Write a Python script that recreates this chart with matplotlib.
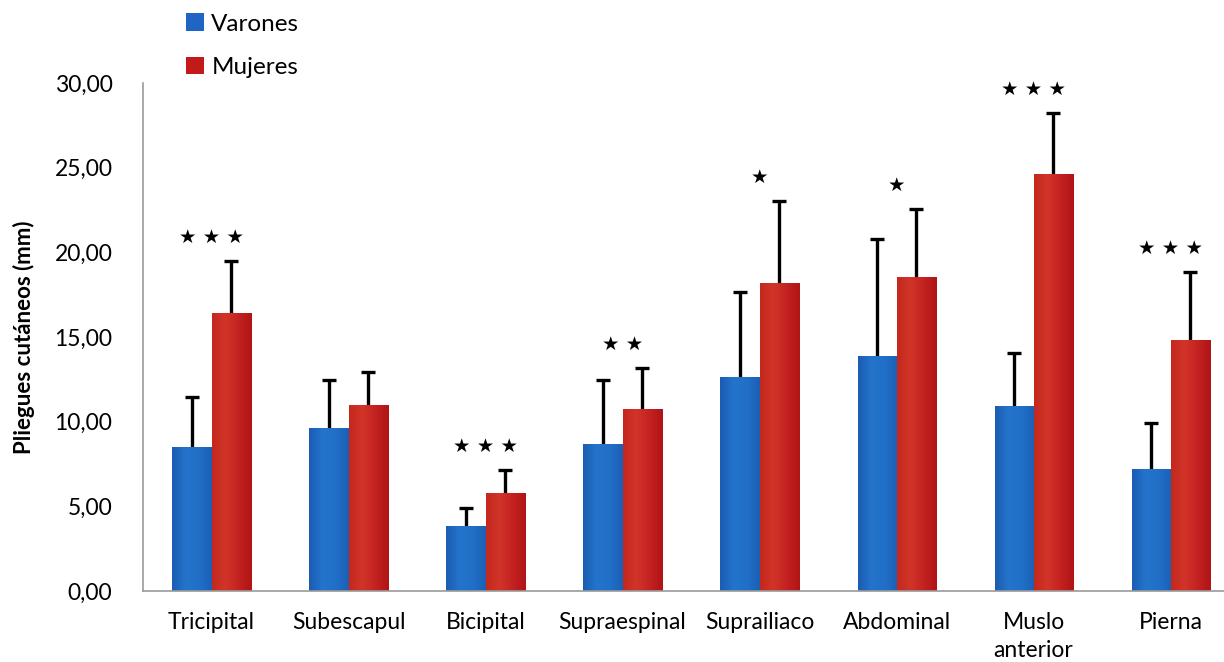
import matplotlib
matplotlib.use("Agg")
import matplotlib.pyplot as plt
import numpy as np
from matplotlib.colors import LinearSegmentedColormap

plt.rcParams['font.family'] = ['Lato', 'DejaVu Sans']

categorias = ["Tricipital", "Subescapul", "Bicipital", "Supraespinal",
              "Suprailiaco", "Abdominal", "Muslo\nanterior", "Pierna"]
varones = [8.52, 9.65, 3.84, 8.66, 12.66, 13.88, 10.93, 7.19]
varones_de = [2.92, 2.81, 1.08, 3.80, 4.98, 6.91, 3.13, 2.71]
mujeres = [16.44, 10.99, 5.77, 10.75, 18.19, 18.55, 24.63, 14.83]
mujeres_de = [3.05, 1.96, 1.38, 2.44, 4.86, 4.00, 3.60, 4.03]
estrellas = ["★ ★ ★", "", "★ ★ ★", "★ ★", "★", "★", "★ ★ ★", "★ ★ ★"]

fig = plt.figure(figsize=(12.24, 6.62), dpi=100)
ax = fig.add_axes([143/1224, 71/662, 1081/1224, 508/662])

x = np.arange(len(categorias))
w = 0.285
ceros = np.zeros(len(x))
ekw = dict(ecolor="black", elinewidth=2.4, capthick=2.4)
b1 = ax.bar(x - w/2, varones, w, color="#1f66c4", label="Varones",
            yerr=[ceros, varones_de], capsize=5, error_kw=ekw, zorder=2)
b2 = ax.bar(x + w/2, mujeres, w, color="#c21a1a", label="Mujeres",
            yerr=[ceros, mujeres_de], capsize=5, error_kw=ekw, zorder=2)
# ocultar el tope inferior (desviación solo hacia arriba)
for b in (b1, b2):
    b.errorbar.lines[1][0].set_visible(False)

# degradado suave en cada barra
cm_az = LinearSegmentedColormap.from_list("az", ["#1b5cb2", "#2474cc", "#2170c8", "#1c5fb6"])
cm_ro = LinearSegmentedColormap.from_list("ro", ["#c4281c", "#d23428", "#c42222", "#b01414"])
grad = np.linspace(0, 1, 64).reshape(1, -1)
for barras, cm in [(b1, cm_az), (b2, cm_ro)]:
    for p in barras:
        x0, y0 = p.get_x(), p.get_y()
        im = ax.imshow(grad, cmap=cm, aspect="auto", zorder=2.1,
                       extent=[x0, x0 + p.get_width(), y0, y0 + p.get_height()])
        im.set_clip_path(p)

for i, s in enumerate(estrellas):
    if s:
        tope = max(varones[i] + varones_de[i], mujeres[i] + mujeres_de[i])
        ax.text(x[i], tope + 1.4, s, ha="center", va="center", fontsize=14,
                family=["DejaVu Sans"])

ax.set_xlim(-0.5, 7.39)
ax.set_ylim(0, 30)
ax.set_yticks(np.arange(0, 31, 5))
ax.set_yticklabels([f"{v:.2f}".replace(".", ",") for v in np.arange(0, 31, 5)], fontsize=16.5)
ax.set_xticks(x)
ax.set_xticklabels(categorias, fontsize=16.5, linespacing=1.45)
ax.tick_params(axis="both", length=0)
ax.tick_params(axis="y", pad=22)
ax.tick_params(axis="x", pad=15)
for s in ["top", "right"]:
    ax.spines[s].set_visible(False)
for s in ["left", "bottom"]:
    ax.spines[s].set_color("#9a9a9a")
    ax.spines[s].set_linewidth(1.2)
ax.set_ylabel("Pliegues cutáneos (mm)", fontsize=16, fontweight="bold")
ax.yaxis.set_label_coords(-0.1, 0.5)

fig.legend(handles=[b1, b2], labels=["Varones", "Mujeres"], loc="upper left",
           bbox_to_anchor=(164/1224, 1.013), frameon=False, fontsize=17.5,
           handlelength=0.75, handleheight=0.75, handletextpad=0.3, labelspacing=0.9)

fig.savefig("out.png", dpi=100)
